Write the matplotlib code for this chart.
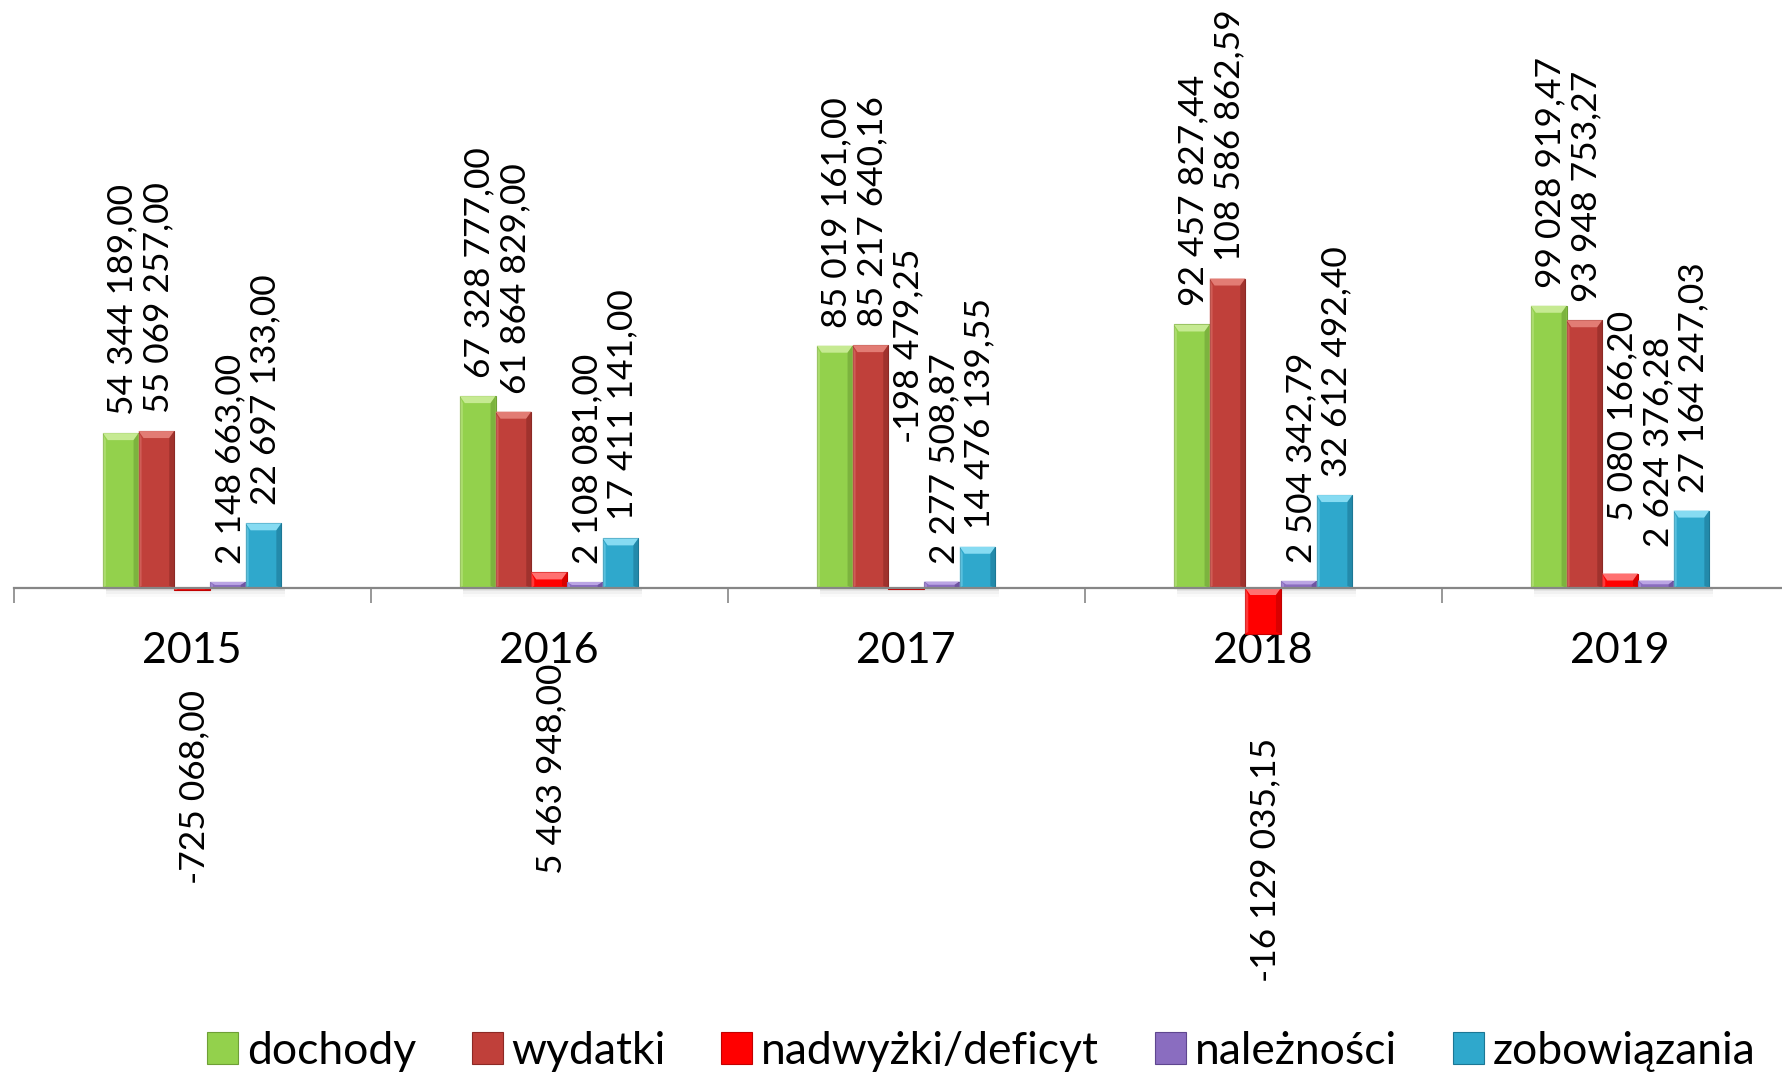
import numpy as np
import matplotlib
matplotlib.use("Agg")
import matplotlib.pyplot as plt
from matplotlib.patches import Polygon

plt.rcParams['font.family'] = ['Lato', 'DejaVu Sans']

# data
years = ["2015", "2016", "2017", "2018", "2019"]
series_names = ["dochody", "wydatki", "nadwyżki/deficyt", "należności", "zobowiązania"]
dochody = [54344189.00, 67328777.00, 85019161.00, 92457827.44, 99028919.47]
wydatki = [55069257.00, 61864829.00, 85217640.16, 108586862.59, 93948753.27]
nadwyzki = [-725068.00, 5463948.00, -198479.25, -16129035.15, 5080166.20]
naleznosci = [2148663.00, 2108081.00, 2277508.87, 2504342.79, 2624376.28]
zobowiazania = [22697133.00, 17411141.00, 14476139.55, 32612492.40, 27164247.03]
series = [dochody, wydatki, nadwyzki, naleznosci, zobowiazania]

# colours: face, light bevel, dark bevel
colors = [("#93D14C", "#C6EA92", "#6E9F36"),
          ("#C0403A", "#E27C74", "#8C2925"),
          ("#FF0000", "#FF7070", "#C20000"),
          ("#8A6DC0", "#BBA5E4", "#5E468F"),
          ("#2FA8CC", "#86DBF2", "#1C7795")]

# label offsets in pixels from bar end (positive = above, negative = below)
label_dy = [[18] * 5,
            [18] * 5,
            [-100, -91, 146, -104, 53],
            [18, 18, 18, 18, 34],
            [18] * 5]


def fmt(v):
    return f"{v:,.2f}".replace(",", " ").replace(".", ",")


W, H = 1782, 1075
fig = plt.figure(figsize=(W / 100, H / 100), dpi=100)
zero_px = 487          # zero line, pixels from bottom
px_per_unit = 2.85e-6  # pixels per zloty
ax = fig.add_axes([13.6 / W, 0, 1785 / W, 1])
ax.set_xlim(-0.5, 4.5)
ax.set_ylim(-zero_px / px_per_unit, (H - zero_px) / px_per_unit)

x = np.arange(len(years))
bw = 0.1
bars = []
for i, (vals, (fc, lc, dc)) in enumerate(zip(series, colors)):
    b = ax.bar(x + (i - 2) * bw, vals, bw, color=fc, edgecolor=dc,
               linewidth=0.8, label=series_names[i], zorder=3)
    bars.append(b)

# bevel effect on each bar
ux = (1785 / 5)          # pixels per x unit
for i, b in enumerate(bars):
    fc, lc, dc = colors[i]
    for r in b.patches:
        x0, w = r.get_x(), r.get_width()
        y0, h = r.get_y(), r.get_height()
        ylo, yhi = min(y0, y0 + h), max(y0, y0 + h)
        hpx = (yhi - ylo) * px_per_unit
        inx = 5 / ux
        iny = min(7, hpx / 2) / px_per_unit
        # top highlight
        ax.add_patch(Polygon([(x0, yhi), (x0 + w, yhi), (x0 + w - inx, yhi - iny),
                              (x0 + inx, yhi - iny)], closed=True,
                             facecolor=lc, edgecolor="none", zorder=4))
        # right dark side
        ax.add_patch(Polygon([(x0 + w, yhi), (x0 + w, ylo), (x0 + w - inx, ylo + iny * 0.3),
                              (x0 + w - inx, yhi - iny)], closed=True,
                             facecolor=dc, edgecolor="none", alpha=0.6, zorder=4))
        # left light side
        ax.add_patch(Polygon([(x0, yhi), (x0, ylo), (x0 + inx * 0.6, ylo + iny * 0.3),
                              (x0 + inx * 0.6, yhi - iny)], closed=True,
                             facecolor=lc, edgecolor="none", alpha=0.5, zorder=4))
        # soft shadow under the bar
        for k, a in enumerate([0.10, 0.07, 0.04]):
            ax.add_patch(Polygon([(x0 + 0.01, 0), (x0 + w + 0.01, 0),
                                  (x0 + w + 0.01, -(k + 1) * 3 / px_per_unit),
                                  (x0 + 0.01, -(k + 1) * 3 / px_per_unit)],
                                 closed=True, facecolor="#808080", edgecolor="none",
                                 alpha=a, zorder=1))

# data labels
for i, b in enumerate(bars):
    for j, r in enumerate(b.patches):
        v = series[i][j]
        dy = label_dy[i][j]
        xc = r.get_x() + r.get_width() / 2
        ax.annotate(fmt(v), (xc, v), xytext=(2, dy), textcoords="offset pixels",
                    rotation=90, ha="center", va="bottom" if dy > 0 else "top",
                    fontsize=25.5, color="black", zorder=6)

# axis
for s in ["left", "right", "top"]:
    ax.spines[s].set_visible(False)
ax.spines["bottom"].set_position(("data", 0))
ax.spines["bottom"].set_color("#868686")
ax.spines["bottom"].set_linewidth(1.6)
ax.spines["bottom"].set_zorder(5)
ax.set_yticks([])
ax.set_xticks(np.arange(-0.5, 5, 1))
ax.set_xticklabels([])
ax.tick_params(axis="x", which="major", direction="out", length=11, width=1.2, color="#868686")
ax.set_xticks(x, minor=True)
ax.set_xticklabels(years, minor=True, fontsize=31)
ax.tick_params(axis="x", which="minor", length=0, pad=32)

fig.legend(handles=bars, labels=series_names, loc="center", bbox_to_anchor=(981 / W, 1 - 1051 / H),
           ncol=5, frameon=False, fontsize=32, handlelength=0.7, handleheight=0.7,
           handletextpad=0.2, columnspacing=1.25)

fig.savefig("out.png", dpi=100)
